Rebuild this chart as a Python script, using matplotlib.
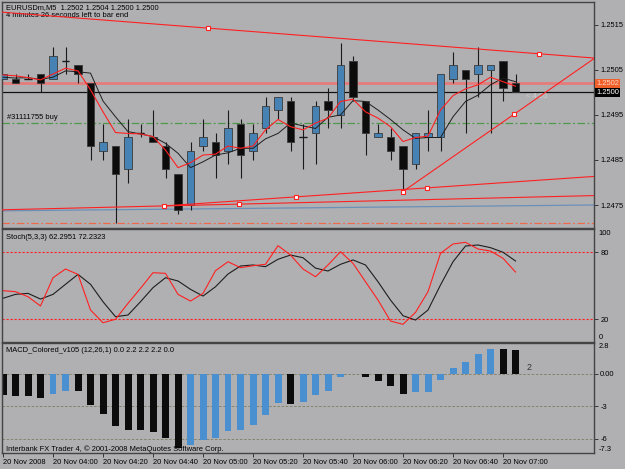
import matplotlib.pyplot as plt
import matplotlib.transforms as mtransforms

plt.rcParams['font.family'] = ['Liberation Sans', 'DejaVu Sans']

BG = '#b0b0b3'
FS = 5.4
BULL = '#4682b4'
BEAR = '#0c0c0c'
RED = '#ff2020'

# EURUSDm M5 bars, 20 Nov 2008 03:40 .. 07:05
opens = [1.2503, 1.2503, 1.2503, 1.2504, 1.2503, 1.2507, 1.2506, 1.2502, 1.2487, 1.2488,
         1.2483, 1.2491, 1.2490, 1.2488, 1.2482, 1.2475, 1.2488, 1.2489, 1.2487, 1.2493,
         1.2487, 1.2492, 1.2496, 1.2498, 1.2490, 1.2491, 1.2498, 1.2495, 1.2507, 1.2498,
         1.2490, 1.2490, 1.2488, 1.2484, 1.2490, 1.2490, 1.2503, 1.2505, 1.2504, 1.2505,
         1.2507, 1.2502]
highs = [1.2504, 1.2504, 1.2504, 1.2504, 1.2510, 1.2510, 1.2506, 1.2502, 1.2493, 1.2488,
         1.2494, 1.2493, 1.2496, 1.2489, 1.2482, 1.2489, 1.2494, 1.2491, 1.2496, 1.2494,
         1.2493, 1.2499, 1.2499, 1.2499, 1.2493, 1.2498, 1.2501, 1.2511, 1.2508, 1.2498,
         1.2493, 1.2492, 1.2488, 1.2491, 1.2496, 1.2504, 1.2509, 1.2505, 1.2510, 1.2506,
         1.2507, 1.2504]
lows = [1.2503, 1.2502, 1.2503, 1.2500, 1.2503, 1.2504, 1.2502, 1.2485, 1.2485, 1.2471,
        1.2480, 1.2490, 1.2489, 1.2481, 1.2473, 1.2474, 1.2487, 1.2481, 1.2484, 1.2481,
        1.2485, 1.2491, 1.2494, 1.2487, 1.2483, 1.2484, 1.2492, 1.2492, 1.2498, 1.2486,
        1.2490, 1.2485, 1.2478, 1.2483, 1.2487, 1.2487, 1.2502, 1.2491, 1.2499, 1.2491,
        1.2498, 1.2500]
closes = [1.2504, 1.2502, 1.2503, 1.2502, 1.2508, 1.2507, 1.2504, 1.2488, 1.2489, 1.2482,
          1.2490, 1.2491, 1.2489, 1.2483, 1.2474, 1.2487, 1.2490, 1.2486, 1.2492, 1.2486,
          1.2491, 1.2497, 1.2499, 1.2489, 1.2490, 1.2497, 1.2496, 1.2506, 1.2499, 1.2491,
          1.2491, 1.2487, 1.2483, 1.2491, 1.2491, 1.2504, 1.2506, 1.2503, 1.2506, 1.2506,
          1.2501, 1.2500]

# moving averages drawn on the price chart
ma_fast = [1.25039, 1.25037, 1.25033, 1.25028, 1.25041, 1.25054, 1.25048, 1.25006, 1.24957, 1.24911,
           1.24909, 1.24908, 1.24902, 1.24872, 1.24833, 1.24844, 1.24861, 1.24863, 1.24881, 1.24876,
           1.24881, 1.24917, 1.24940, 1.24924, 1.24917, 1.24932, 1.24943, 1.24980, 1.24985, 1.24957,
           1.24943, 1.24924, 1.24891, 1.24900, 1.24903, 1.24961, 1.24993, 1.25008, 1.25017, 1.25034,
           1.25024, 1.25014]
ma_slow = [1.25034, 1.25032, 1.25033, 1.25029, 1.25034, 1.25048, 1.25046, 1.25043, 1.24981, 1.24946,
           1.24913, 1.24908, 1.24902, 1.24887, 1.24865, 1.24833, 1.24846, 1.24861, 1.24866, 1.24876,
           1.24876, 1.24897, 1.24909, 1.24932, 1.24926, 1.24920, 1.24945, 1.24950, 1.24982, 1.24980,
           1.24961, 1.24940, 1.24917, 1.24898, 1.24900, 1.24900, 1.24946, 1.24980, 1.24994, 1.25017,
           1.25032, 1.25024]

# Stoch(5,3,3)
stoch_k = [45.6, 44.7, 40.2, 31.9, 57.2, 65.0, 60.2, 28.3, 16.9, 20.0,
           34.3, 47.7, 61.7, 61.1, 42.3, 36.3, 43.2, 63.5, 71.5, 66.2,
           67.9, 69.2, 85.9, 77.5, 65.0, 58.1, 68.6, 80.5, 70.1, 53.6,
           37.2, 18.4, 15.5, 26.2, 44.7, 79.0, 87.4, 88.9, 82.9, 81.1,
           74.6, 62.3]
stoch_d = [38.8, 42.3, 43.2, 38.1, 42.3, 51.3, 60.2, 51.3, 35.7, 22.3,
           23.8, 35.7, 48.3, 57.2, 54.3, 46.8, 40.8, 49.1, 60.5, 67.7,
           68.6, 67.1, 73.7, 77.5, 75.1, 65.8, 63.2, 69.2, 73.1, 68.6,
           53.6, 37.2, 23.2, 19.3, 28.3, 50.7, 71.5, 85.6, 86.5, 84.1,
           80.0, 72.2]

# MACD_Colored_v105 (12,26,1) histogram
macd = [-1.92, -2.07, -2.08, -2.22, -1.85, -1.55, -1.61, -2.90, -3.70, -4.85,
        -5.16, -5.20, -5.37, -5.87, -6.85, -6.55, -6.08, -5.87, -5.31, -5.16,
        -4.69, -3.77, -2.69, -2.75, -2.60, -1.99, -1.55, -0.31, -0.05, -0.31,
        -0.62, -1.15, -1.85, -1.67, -1.66, -0.53, 0.55, 1.11, 1.79, 2.28,
        2.25, 2.20]

tick_pos = [0, 4, 8, 12, 16, 20, 24, 28, 32, 36, 40]
tick_lab = ['20 Nov 2008', '20 Nov 04:00', '20 Nov 04:20', '20 Nov 04:40', '20 Nov 05:00',
            '20 Nov 05:20', '20 Nov 05:40', '20 Nov 06:00', '20 Nov 06:20', '20 Nov 06:40',
            '20 Nov 07:00']

# trend lines: two anchor points (bar index, price)
top_line = ([16.4, 42.9], [1.25143, 1.25086])
rise_line = ([32.0, 40.9], [1.24780, 1.24952])
sup_line1 = ([23.4, 33.9], [1.24768, 1.24788])
sup_line2 = ([12.9, 18.9], [1.24748, 1.24752])
blue_line = ([-0.3, 47.1], [1.24737, 1.24750])
bid_price = 1.2500
ask_price = 1.2502
order_price = 1.24932
stop_price = 1.2471

XL = (-0.08, 47.28)
n = len(opens)
idx = list(range(n))


def extend(line, x0, x1):
    xs, ys = line
    k = (ys[1] - ys[0]) / (xs[1] - xs[0])
    return [x0, x1], [ys[0] + k * (x0 - xs[0]), ys[0] + k * (x1 - xs[0])]


def style(a):
    a.set_facecolor(BG)
    a.set_xlim(*XL)
    for s in a.spines.values():
        s.set_color('#444444')
        s.set_linewidth(1)
    a.yaxis.tick_right()
    a.tick_params(axis='y', labelsize=FS, length=3, pad=1.5, width=0.6, color='#222222')
    a.set_xticks([])


fig = plt.figure(figsize=(6.25, 4.69), dpi=100, facecolor=BG)
ax = fig.add_axes([0.0032, 0.5149, 0.9472, 0.4808])
ax_st = fig.add_axes([0.0032, 0.2716, 0.9472, 0.2401])
ax_md = fig.add_axes([0.0032, 0.0341, 0.9472, 0.2335])
for a in (ax, ax_st, ax_md):
    style(a)

# ---- price panel ----
ax.set_ylim(1.2470, 1.25201)
ax.set_yticks([1.2475, 1.2485, 1.2495, 1.2505, 1.2515])
ax.set_yticklabels(['%.4f' % v for v in [1.2475, 1.2485, 1.2495, 1.2505, 1.2515]])

ax.axhline(ask_price, color='#e57c7c', lw=2, zorder=1)
ax.axhline(bid_price, color='#111111', lw=0.9, zorder=1)
ax.axhline(order_price, color='#4f9a4a', lw=0.9, ls=(0, (6, 2, 1.5, 2)), zorder=1)
ax.axhline(stop_price, color='#f06a4a', lw=0.9, ls=(0, (6, 2, 1.5, 2)), zorder=1)

bx, by = extend(blue_line, XL[0], XL[1])
ax.plot(bx, by, color='#6b90b8', lw=0.9, zorder=2)
for line, x0 in [(top_line, XL[0]), (rise_line, rise_line[0][0]),
                 (sup_line1, sup_line2[0][0]), (sup_line2, XL[0])]:
    lx, ly = extend(line, x0, XL[1])
    ax.plot(lx, ly, color=RED, lw=0.8, zorder=6)
    mx, my = extend(line, line[0][0], line[0][1])
    ax.plot(mx, my, 's', ms=2.6, mfc='white', mec=RED, mew=0.8, zorder=7)

ax.vlines(idx, lows, highs, color='#1a1a1a', lw=0.8, zorder=3)
body_h = [c - o for o, c in zip(opens, closes)]
body_c = [BULL if c > o else BEAR for o, c in zip(opens, closes)]
ax.bar(idx, body_h, bottom=opens, width=0.62, color=body_c, edgecolor='#3a3a3a',
       linewidth=0.6, zorder=4)
for i in idx:
    if opens[i] == closes[i]:
        ax.hlines(opens[i], i - 0.31, i + 0.31, color='#1a1a1a', lw=1, zorder=4)

ax.plot(idx, ma_slow, color='#1e1e1e', lw=0.7, zorder=5)
ax.plot(idx, ma_fast, color=RED, lw=0.8, zorder=5)

ax.text(0.006, 0.9765, 'EURUSDm,M5  1.2502 1.2504 1.2500 1.2500', transform=ax.transAxes,
        fontsize=FS, va='center', ha='left')
ax.text(0.006, 0.938, '4 minutes 26 seconds left to bar end', transform=ax.transAxes,
        fontsize=FS, va='center', ha='left')
ax.text(0.35, order_price + 0.00005, '#31111755 buy', fontsize=FS, va='bottom', ha='left')
ax.text(41.8, 1.2499, '< 4:26', fontsize=FS, color='#cdcdcd', va='center', ha='left')

tr = mtransforms.blended_transform_factory(ax.transAxes, ax.transData)
ax.text(1.004, ask_price, '1.2502', transform=tr, fontsize=FS, color='#ffd8c8', va='center',
        ha='left', bbox=dict(facecolor='#f0602a', edgecolor='none', pad=0.7), clip_on=False)
ax.text(1.004, bid_price, '1.2500', transform=tr, fontsize=FS, color='white', va='center',
        ha='left', bbox=dict(facecolor='black', edgecolor='none', pad=0.7), clip_on=False)

# ---- stochastic panel ----
ax_st.set_ylim(0, 100.8)
ax_st.set_yticks([20, 80])
ax_st.set_yticklabels(['20', '80'])
for lvl in (20, 80):
    ax_st.axhline(lvl, color=RED, lw=0.8, ls=(0, (2, 1.6)))
ax_st.plot(idx, stoch_d, color='#1e1e1e', lw=0.8)
ax_st.plot(idx, stoch_k, color=RED, lw=0.8)
tr_st = mtransforms.blended_transform_factory(ax_st.transAxes, ax_st.transData)
ax_st.text(1.008, 100, '100', transform=tr_st, fontsize=FS, va='top', ha='left')
ax_st.text(1.008, 0.5, '0', transform=tr_st, fontsize=FS, va='bottom', ha='left')
ax_st.text(0.006, 0.926, 'Stoch(5,3,3) 62.2951 72.2323', transform=ax_st.transAxes,
           fontsize=FS, va='center', ha='left')

# ---- MACD panel ----
ax_md.set_ylim(-7.3, 2.8)
ax_md.set_yticks([0, -3, -6])
ax_md.set_yticklabels(['0.00', '-3', '-6'])
for lvl in (0, -3, -6):
    ax_md.axhline(lvl, color='#7c7c62', lw=0.6, ls=(0, (3, 2)), zorder=1)
bar_c = [BEAR] + ['#4a90d0' if macd[i] > macd[i - 1] else BEAR for i in range(1, n)]
ax_md.bar(idx, macd, width=0.56, color=bar_c, zorder=2)
tr_md = mtransforms.blended_transform_factory(ax_md.transAxes, ax_md.transData)
ax_md.text(1.008, 2.8, '2.8', transform=tr_md, fontsize=FS, va='top', ha='left')
ax_md.text(1.008, -7.3, '-7.3', transform=tr_md, fontsize=FS, va='bottom', ha='left')
ax_md.text(41.9, 0.6, '2', fontsize=6.5, color='#333333', va='center', ha='left')
ax_md.text(0.006, 0.934, 'MACD_Colored_v105 (12,26,1) 0.0 2.2 2.2 2.2 0.0',
           transform=ax_md.transAxes, fontsize=FS, va='center', ha='left')
ax_md.text(0.006, 0.034, 'Interbank FX Trader 4, \u00a9 2001-2008 MetaQuotes Software Corp.',
           transform=ax_md.transAxes, fontsize=FS, va='center', ha='left', zorder=5)

ax_md.set_xticks(tick_pos)
ax_md.set_xticklabels(tick_lab, ha='left')
ax_md.tick_params(axis='x', labelsize=FS, length=3, pad=1.5, width=0.6, color='#222222')

fig.savefig('out.png', dpi=100, facecolor=BG)
